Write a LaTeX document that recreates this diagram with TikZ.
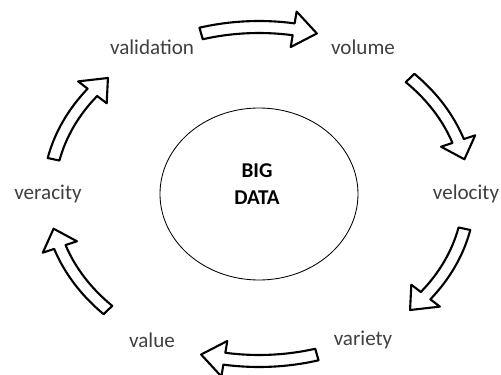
\documentclass[tikz,border=0pt]{standalone}
\usepackage{fontspec}
\setmainfont{Carlito}

% curved block arrow along the ellipse, clockwise from angle #1 to angle #2
\newcommand{\cyclearrow}[2]{%
  \pgfmathsetmacro\hb{#2+6.5}%
  \draw[blockarrow] (#1:5.40 and 4.325)
    arc[start angle=#1, end angle=\hb, x radius=5.40, y radius=4.325]
    -- (\hb:5.70 and 4.625) -- (#2:5.25 and 4.175) -- (\hb:4.80 and 3.725)
    -- (\hb:5.10 and 4.025)
    arc[start angle=\hb, end angle=#1, x radius=5.10, y radius=4.025]
    -- cycle;%
}

\begin{document}
\begin{tikzpicture}[
    blockarrow/.style={line width=1.5pt, line join=round, fill=white},
    vlabel/.style={text=black!75, font=\fontsize{15}{18}\selectfont}
  ]
  \useasboundingbox[fill=white] (-6.475,-4.5) rectangle (6.05,4.85);

  % Centre
  \draw[line width=0.6pt] (0,0) ellipse (2.475 and 2.15);
  \node[font=\fontsize{15}{19}\selectfont\bfseries, align=center] (bigdata) at (-0.05,0.25) {BIG\\DATA};

  % The six V's
  \node[vlabel] (volume)     at (2.6,3.675)   {volume};
  \node[vlabel] (velocity)   at (5.175,0)     {velocity};
  \node[vlabel] (variety)    at (2.6,-3.65)   {variety};
  \node[vlabel] (value)      at (-2.675,-3.65) {value};
  \node[vlabel] (veracity)   at (-5.275,0)    {veracity};
  \node[vlabel] (validation) at (-2.675,3.675) {validation};

  % Arrows between them
  \cyclearrow{106}{74}
  \cyclearrow{44}{12}
  \cyclearrow{-12}{-44}
  \cyclearrow{-74}{-106}
  \cyclearrow{-136}{-168}
  \cyclearrow{168}{136}

\end{tikzpicture}
\end{document}
